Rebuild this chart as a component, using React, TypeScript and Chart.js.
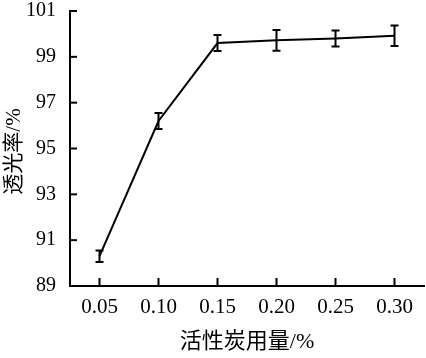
import React, { useEffect, useRef } from "react";
import { Chart, registerables } from "chart.js";

Chart.register(...registerables);

const categories = ["0.05", "0.10", "0.15", "0.20", "0.25", "0.30"];
const transmittance = [90.3, 96.2, 99.6, 99.72, 99.8, 99.92];
const errors = [0.25, 0.35, 0.35, 0.45, 0.35, 0.45];
const yMin = 89;
const yMax = 101;
const yStep = 2;
const xTitle = "活性炭用量/%";
const yTitle = "透光率/%";

const FONT = "'Liberation Serif', 'Times New Roman', serif";
const CJK_FONT = "'Liberation Serif', 'Noto Sans CJK SC', serif";

const decorPlugin = {
  id: "decor",
  afterDatasetsDraw(chart: any) {
    const ctx = chart.ctx;
    const x = chart.scales.x;
    const y = chart.scales.y;
    ctx.save();
    ctx.strokeStyle = "#000";
    ctx.lineWidth = 2;
    // inward ticks
    y.ticks.forEach((t: any) => {
      const py = y.getPixelForValue(t.value);
      ctx.beginPath();
      ctx.moveTo(x.left, py);
      ctx.lineTo(x.left + 7, py);
      ctx.stroke();
    });
    categories.forEach((_, i) => {
      const px = x.getPixelForValue(i);
      ctx.beginPath();
      ctx.moveTo(px, y.bottom);
      ctx.lineTo(px, y.bottom - 8);
      ctx.stroke();
    });
    // error bars
    const meta = chart.getDatasetMeta(0);
    meta.data.forEach((pt: any, i: number) => {
      const v = transmittance[i];
      const e = errors[i];
      const px = pt.x;
      const top = y.getPixelForValue(v + e);
      const bot = y.getPixelForValue(v - e);
      ctx.beginPath();
      ctx.moveTo(px, top);
      ctx.lineTo(px, bot);
      ctx.moveTo(px - 4, top);
      ctx.lineTo(px + 4, top);
      ctx.moveTo(px - 4, bot);
      ctx.lineTo(px + 4, bot);
      ctx.stroke();
    });
    // axis titles
    ctx.fillStyle = "#000";
    ctx.textAlign = "center";
    ctx.textBaseline = "middle";
    ctx.font = `22px ${CJK_FONT}`;
    ctx.fillText(xTitle, (x.left + x.right) / 2, 342);
    ctx.translate(14, (y.top + y.bottom) / 2 + 3);
    ctx.rotate(-Math.PI / 2);
    ctx.font = `21px ${CJK_FONT}`;
    ctx.fillText(yTitle, 0, 0);
    ctx.restore();
  },
};

export default function App() {
  const ref = useRef<HTMLCanvasElement | null>(null);
  useEffect(() => {
    if (!ref.current) return;
    const chart = new Chart(ref.current, {
      type: "line",
      data: {
        labels: categories,
        datasets: [
          {
            data: transmittance,
            borderColor: "#000",
            borderWidth: 2,
            pointRadius: 0,
            tension: 0,
            fill: false,
          },
        ],
      },
      options: {
        animation: false,
        responsive: false,
        maintainAspectRatio: false,
        layout: { padding: { top: 11, right: 2, left: 0, bottom: 0 } },
        plugins: { legend: { display: false }, tooltip: { enabled: false } },
        scales: {
          x: {
            type: "category",
            offset: true,
            grid: { display: false, drawTicks: false, offset: false },
            border: { display: true, color: "#000", width: 2 },
            ticks: {
              color: "#000",
              padding: 9,
              font: { family: FONT, size: 21 },
              maxRotation: 0,
            },
            afterFit: (s: any) => {
              s.height = 72;
              s.paddingLeft = 0;
              s.paddingRight = 0;
            },
          },
          y: {
            min: yMin,
            max: yMax,
            grid: { display: false, drawTicks: false },
            border: { display: true, color: "#000", width: 2 },
            ticks: {
              stepSize: yStep,
              color: "#000",
              padding: 14,
              font: { family: FONT, size: 20 },
            },
            afterFit: (s: any) => {
              s.width = 70;
              s.paddingTop = 0;
              s.paddingBottom = 0;
            },
          },
        },
      },
      plugins: [decorPlugin],
    } as any);
    return () => chart.destroy();
  }, []);
  return (
    <div style={{ position: "fixed", left: 0, top: 0, width: 426, height: 358, background: "#fff" }}>
      <canvas ref={ref} width={426} height={358} style={{ width: 426, height: 358 }} />
    </div>
  );
}
